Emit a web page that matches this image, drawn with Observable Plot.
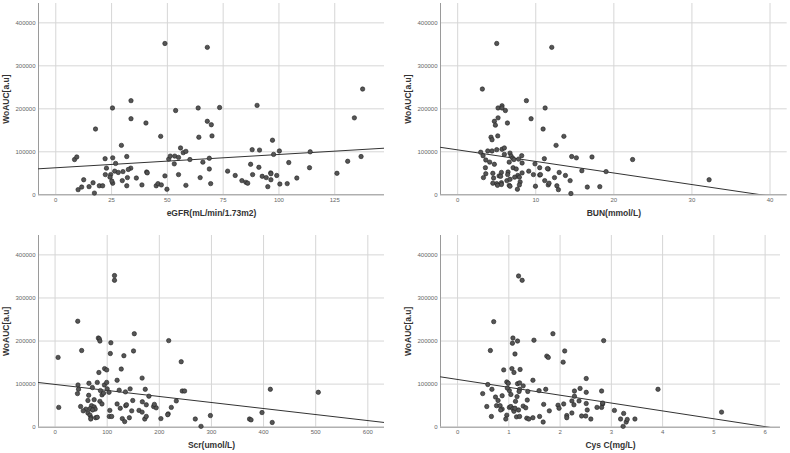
<!DOCTYPE html>
<html><head><meta charset="utf-8">
<script src="https://cdn.jsdelivr.net/npm/d3@7"></script>
<script src="https://cdn.jsdelivr.net/npm/@observablehq/plot@0.6"></script>
<style>
body{margin:0;background:#fff;}
#wrap{position:relative;width:790px;height:453px;overflow:hidden;}
.panel{position:absolute;}
.panel svg{font-family:"Liberation Sans",Arial,sans-serif;display:block;}
</style></head><body><div id="wrap"></div>
<script>
// ---- data ----
const yLabel = "WoAUC[a.u]";
const xLabels = ["eGFR(mL/min/1.73m2)", "BUN(mmol/L)", "Scr(umol/L)", "Cys C(mg/L)"];
const yTicks = [0, 100000, 200000, 300000, 400000];
const xTicksEgfr = [0, 25, 50, 75, 100, 125];
const xTicksBun = [0, 10, 20, 30, 40];
const xTicksScr = [0, 100, 200, 300, 400, 500, 600];
const xTicksCys = [0, 1, 2, 3, 4, 5, 6];
const fitIntercepts = [62900, 104500, 99250, 110800];
const fitSlopes = [309, -2690, -139.8, -18257];

const egfrX = [48.9,67.9,137.5,133.8,33.7,25.4,33.7,17.8,40.4,47.0,53.7,63.8,73.4,90.2,67.9,69.7,64.1,70.0,97.1,29.4,8.4,9.4,22.1,25.5,31.8,26.8,22.7,33.6,32.5,26.4,28.0,30.1,22.2,24.6,24.3,32.1,36.1,29.8,25.5,25.1,12.5,10.0,11.6,14.9,16.7,17.3,19.5,21.0,31.8,38.6,40.7,41.0,45.0,45.8,47.3,48.9,49.8,50.6,51.3,53.3,53.1,55.0,55.9,57.1,58.3,55.0,58.3,60.1,64.7,65.9,68.8,68.8,69.4,77.0,80.4,83.4,85.2,86.0,87.3,88.0,88.2,91.0,91.3,92.5,94.3,95.0,96.3,96.4,96.4,97.6,99.0,100.2,100.4,103.7,104.4,108.0,114.0,113.7,126.0,130.8,136.8];
const egfrY = [352000,343000,246000,179000,219000,202000,177000,153000,167000,136000,196000,202000,203000,208000,171000,163000,134000,137000,127000,115000,82000,88000,84000,86000,89000,73000,62000,62000,59000,55000,52000,54000,47000,47000,41000,40000,39000,33000,27000,32000,35000,12000,18000,19000,28000,4000,21000,21000,21000,23000,53000,51000,21000,26000,23000,44000,13000,83000,90000,90000,72000,87000,109000,98000,101000,47000,22000,82000,40000,76000,85000,60000,26000,55000,45000,33000,29000,27000,71000,105000,47000,64000,104000,43000,40000,19000,51000,49000,35000,94000,45000,102000,25000,26000,75000,39000,100000,63000,50000,78000,89000];

const bunX = [5.0,12.05,3.16,8.8,5.17,5.68,5.68,6.11,11.2,5.17,9.4,4.7,4.83,6.37,10.94,4.27,4.4,5.13,13.6,12.6,2.95,3.85,4.4,5.0,5.68,5.98,5.98,6.7,6.84,7.05,7.2,7.8,8.2,3.25,11.1,14.6,15.2,17.2,22.4,3.6,4.1,4.7,3.55,6.6,7.1,7.5,8.25,10.5,11.6,9.1,13.0,15.9,19.0,3.6,4.5,5.6,6.45,8.25,13.8,10.5,10.6,9.7,5.3,5.5,6.4,7.7,7.9,3.3,4.6,7.3,12.4,6.3,6.7,11.15,14.4,4.5,5.0,5.6,5.6,6.6,6.7,8.0,7.9,5.1,9.96,11.6,11.7,12.7,12.9,7.65,16.6,18.2,14.5,32.2,9.9,11.5];
const bunY = [352000,343000,246000,219000,202000,207000,202000,196000,202000,179000,177000,171000,162000,167000,153000,134000,128000,137000,136000,115000,99000,102000,102000,105000,106000,109000,94000,97000,90000,85000,82000,83000,91000,91000,84000,89000,86000,88000,82000,81000,76000,71000,63000,76000,63000,60000,74000,63000,60000,55000,52000,56000,54000,49000,50000,52000,53000,51000,45000,46000,47000,47000,44000,43000,47000,45000,41000,40000,39000,41000,40000,33000,36000,33000,33000,27000,26000,28000,24000,22000,20000,30000,23000,22000,20000,23000,27000,21000,12000,13000,18000,19000,3000,35000,72000,61000];

const scrX = [114,114,43.5,51,5.8,7,83,85,86,107,106,132,152,150.5,218,242,84,95,99,127,167,119,44,45,43,65,81,94.6,99,100,103.5,71.6,87,90,93,64.5,123,135,144,173,180,244,248.5,413,505,232.6,75,63,86,149,167.4,119,135.5,137,49,70,75,59,67,77,125,175,189,194,190.5,54,72,90,105,147,161,167,223,217,216,63,67,69,68.4,78,81,104,108.6,129,133.5,142.5,172,175,203,269,298,280,373,376,397,416.6];
const scrY = [352000,341000,246000,178000,162000,46000,207000,205000,200000,196000,171000,166000,217000,177000,201000,152000,127000,136000,133000,135000,114000,109000,98000,88000,78000,102000,104000,98000,104000,89000,81000,92000,85000,75000,79000,74000,86000,82000,89000,88000,72000,84000,84000,88000,81000,61000,64000,62000,60000,62000,59000,54000,50000,52000,48000,50000,47000,42000,43000,42000,44000,52000,48000,45000,53000,38000,40000,54000,39000,38000,39000,35000,46000,31000,29000,33000,28000,22000,19000,22000,23000,25000,25000,20000,13000,22000,19000,25000,20000,19000,27000,2000,19000,17000,34000,11000];

const cysX = [1.19,1.26,0.705,0.64,1.08,1.07,1.17,1.49,1.86,2.85,1.12,1.74,1.77,2.09,2.06,0.9,1.06,1.1,1.22,1.47,2.51,0.59,0.49,0.67,0.96,0.99,1.01,1.17,1.21,1.21,1.28,0.97,1.2,1.04,0.87,0.74,0.79,0.76,0.57,0.66,1.16,1.13,1.37,1.59,1.72,2.28,2.39,2.51,2.81,3.91,5.15,2.28,2.23,2.37,2.07,2.27,2.51,2.83,1.68,1.36,0.83,0.87,0.84,1.01,1.04,1.08,1.1,1.19,1.28,1.12,0.96,0.94,1.15,1.21,1.33,1.35,1.39,1.47,1.6,1.67,1.79,1.96,1.98,2.13,2.13,2.23,2.42,2.5,2.53,2.6,2.72,2.81,2.83,3.06,3.18,3.24,3.23,3.29,3.31,3.46];
const cysY = [351000,341000,245000,178000,207000,195000,200000,202000,217000,201000,170000,165000,162000,177000,151000,133000,136000,127000,134000,109000,113000,99000,78000,88000,105000,102000,85000,101000,103000,88000,96000,91000,83000,76000,73000,70000,62000,50000,48000,25000,71000,60000,83000,85000,88000,84000,90000,81000,84000,88000,35000,72000,61000,61000,54000,52000,55000,54000,53000,63000,50000,42000,40000,46000,48000,43000,37000,40000,49000,44000,28000,19000,24000,25000,45000,21000,19000,22000,25000,12000,38000,51000,44000,27000,22000,33000,26000,26000,40000,19000,46000,46000,56000,39000,19000,32000,2000,12000,18000,19000];

// ---- layout ----
const panels = [
  {xs: egfrX, ys: egfrY, label: xLabels[0], domain: [-7.75, 147.3], ticks: xTicksEgfr, fit: 0, left: 0, top: 0, h: 226, mt: 3, mb: 31.7, ml: 38, mr: 11},
  {xs: bunX, ys: bunY, label: xLabels[1], domain: [-2.2, 42.2], ticks: xTicksBun, fit: 1, left: 395, top: 0, h: 226, mt: 3, mb: 31.7, ml: 45, mr: 3.3},
  {xs: scrX, ys: scrY, label: xLabels[2], domain: [-31.8, 632], ticks: xTicksScr, fit: 2, left: 0, top: 226, h: 227, mt: 9, mb: 26.3, ml: 38, mr: 11},
  {xs: cysX, ys: cysY, label: xLabels[3], domain: [-0.333, 6.3], ticks: xTicksCys, fit: 3, left: 395, top: 226, h: 227, mt: 9, mb: 26.3, ml: 45, mr: 10}
];

const wrap = document.getElementById("wrap");
const gridColor = "#d6d6d6";
const axisColor = "#9a9a9a";

for (const p of panels) {
  const pts = p.xs.map((x, i) => ({x, y: p.ys[i]}));
  const a = fitIntercepts[p.fit], b = fitSlopes[p.fit];
  const chart = Plot.plot({
    width: 395, height: p.h,
    marginTop: p.mt, marginBottom: p.mb, marginLeft: p.ml, marginRight: p.mr,
    style: {background: "transparent", fontSize: "6px", color: "#666", fontFamily: "'Liberation Sans', Arial, sans-serif"},
    x: {domain: p.domain},
    y: {domain: [0, 445000]},
    marks: [
      Plot.gridX(p.ticks, {stroke: gridColor, strokeOpacity: 1}),
      Plot.gridY(yTicks, {stroke: gridColor, strokeOpacity: 1}),
      Plot.ruleX([p.domain[0]], {stroke: axisColor}),
      Plot.ruleY([0], {stroke: axisColor}),
      Plot.axisX(p.ticks, {tickSize: 0, tickPadding: 3, tickFormat: d3.format("d"), fill: "#666", label: null}),
      Plot.axisY(yTicks, {tickSize: 0, tickPadding: 3, tickFormat: d3.format("d"), fill: "#666", label: null}),
      Plot.line(p.domain, {x: d => d, y: d => a + b * d, stroke: "#333", strokeWidth: 1, clip: true}),
      Plot.dot(pts, {x: "x", y: "y", r: 2.2, fill: "#555", stroke: "#222", strokeWidth: 0.6}),
      Plot.text([p.label], {frameAnchor: "bottom", dy: 18, text: d => d, textAnchor: "middle", lineAnchor: "middle", fontSize: 8.5, fontWeight: "bold", fill: "#333"}),
      Plot.text([yLabel], {frameAnchor: "left", dx: -32, rotate: -90, text: d => d, textAnchor: "middle", lineAnchor: "middle", fontSize: 8.5, fontWeight: "bold", fill: "#333"})
    ]
  });
  const div = document.createElement("div");
  div.className = "panel";
  div.style.left = p.left + "px";
  div.style.top = p.top + "px";
  div.appendChild(chart);
  wrap.appendChild(div);
}
</script>
</body></html>
